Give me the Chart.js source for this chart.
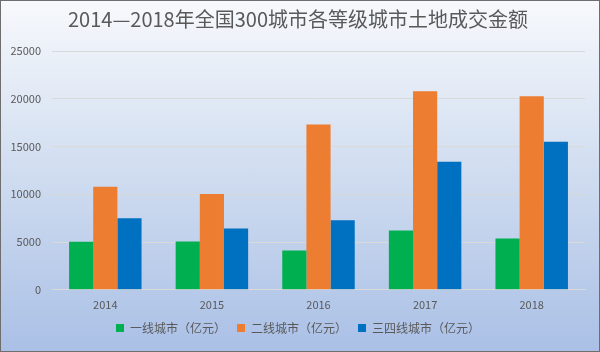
<!DOCTYPE html>
<html>
<head>
<meta charset="utf-8">
<script src="https://cdn.jsdelivr.net/npm/chart.js@4"></script>
<style>
  html, body { margin: 0; padding: 0; }
  #wrap {
    width: 600px; height: 352px; box-sizing: border-box;
    border: 1px solid #6e6e6e;
    background: linear-gradient(to bottom, #f7f9fc 0%, #d3dff1 45%, #aac0e6 100%);
  }
</style>
</head>
<body>
<div id="wrap"><canvas id="chart" width="598" height="350"></canvas></div>
<script>
const years = ['2014', '2015', '2016', '2017', '2018'];
const tier1 = [5030, 5060, 4110, 6220, 5380];
const tier2 = [10790, 10020, 17300, 20780, 20250];
const tier34 = [7490, 6430, 7280, 13400, 15510];
const seriesNames = ['一线城市（亿元）', '二线城市（亿元）', '三四线城市（亿元）'];

const font = "'Noto Sans CJK SC', 'Noto Sans', sans-serif";

new Chart(document.getElementById('chart'), {
  type: 'bar',
  data: {
    labels: years,
    datasets: [
      { label: seriesNames[0], data: tier1, backgroundColor: '#00b050' },
      { label: seriesNames[1], data: tier2, backgroundColor: '#ed7d31' },
      { label: seriesNames[2], data: tier34, backgroundColor: '#0070c0' }
    ]
  },
  options: {
    responsive: false,
    animation: false,
    layout: { padding: { left: 10, right: 14, top: 6, bottom: 7 } },
    datasets: { bar: { barPercentage: 1, categoryPercentage: 0.68 } },
    plugins: {
      title: {
        display: true,
        text: '2014—2018年全国300城市各等级城市土地成交金额',
        color: '#595959',
        font: { family: font, size: 20, weight: 'normal' },
        padding: { top: 0, bottom: 20 }
      },
      legend: {
        position: 'bottom',
        labels: {
          color: '#595959',
          boxWidth: 8, boxHeight: 8,
          padding: 11,
          font: { family: font, size: 12 }
        }
      },
      tooltip: { enabled: false }
    },
    scales: {
      x: {
        grid: { display: false },
        border: { color: '#d9d9d9' },
        ticks: { color: '#595959', padding: 0, font: { family: font, size: 11 } }
      },
      y: {
        min: 0, max: 25000,
        afterFit: (scale) => { scale.width = 41; },
        ticks: {
          stepSize: 5000, color: '#595959', padding: 11,
          font: { family: font, size: 11 },
          callback: (v) => String(v)
        },
        grid: { color: '#d9d9d9', drawTicks: false },
        border: { display: false }
      }
    }
  }
});
</script>
</body>
</html>
